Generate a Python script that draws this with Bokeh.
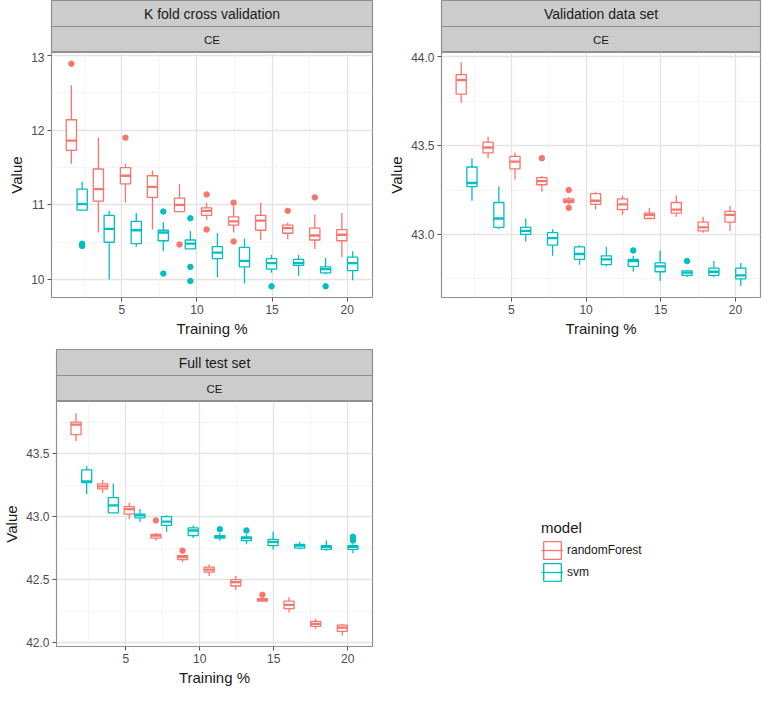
import numpy as np
from bokeh.plotting import figure
from bokeh.models import (Range1d, FixedTicker, NumeralTickFormatter, Label, Span,
                          ColumnDataSource, Legend, LegendItem)
from bokeh.layouts import column, row
from bokeh.embed import file_html
from bokeh.resources import INLINE

# ---------------- data ----------------
training_pct = [2, 3.8, 5.6, 7.4, 9.2, 11, 12.8, 14.6, 16.4, 18.2, 20]
models = ["randomForest", "svm"]
model_colors = ["#F8766D", "#00BFC4"]

# K fold cross validation
kf_rf_low  = [11.55, 10.63, 11.03, 10.67, 10.91, 10.80, 10.63, 10.53, 10.54, 10.41, 10.30]
kf_rf_q1   = [11.73, 11.05, 11.28, 11.10, 10.91, 10.86, 10.73, 10.66, 10.62, 10.53, 10.52]
kf_rf_med  = [11.86, 11.21, 11.39, 11.24, 11.00, 10.92, 10.78, 10.79, 10.69, 10.59, 10.60]
kf_rf_q3   = [12.14, 11.48, 11.50, 11.39, 11.09, 10.96, 10.84, 10.86, 10.73, 10.69, 10.67]
kf_rf_high = [12.60, 11.90, 11.55, 11.46, 11.28, 11.03, 10.98, 11.03, 10.76, 10.87, 10.89]
kf_rf_out_x = [2, 5.6, 9.2, 11, 11, 12.8, 12.8, 16.4, 18.2]
kf_rf_out_y = [12.89, 11.90, 10.47, 11.14, 10.67, 11.03, 10.51, 10.92, 11.10]
kf_svm_low  = [10.93, 10.00, 10.44, 10.38, 10.41, 10.03, 9.95, 10.09, 10.05, 10.07, 9.99]
kf_svm_q1   = [10.93, 10.50, 10.48, 10.52, 10.41, 10.28, 10.17, 10.14, 10.19, 10.09, 10.12]
kf_svm_med  = [11.01, 10.68, 10.66, 10.63, 10.48, 10.36, 10.25, 10.22, 10.22, 10.14, 10.22]
kf_svm_q3   = [11.21, 10.86, 10.78, 10.66, 10.53, 10.44, 10.43, 10.28, 10.27, 10.17, 10.30]
kf_svm_high = [11.31, 10.92, 10.89, 10.77, 10.65, 10.62, 10.55, 10.33, 10.33, 10.29, 10.38]
kf_svm_out_x = [2, 2, 7.4, 7.4, 9.2, 9.2, 9.2, 14.6, 18.2]
kf_svm_out_y = [10.48, 10.45, 10.91, 10.08, 10.82, 10.17, 9.98, 9.91, 9.91]

# Validation data set
val_rf_low  = [43.74, 43.43, 43.31, 43.24, 43.17, 43.14, 43.11, 43.09, 43.10, 43.01, 43.02]
val_rf_q1   = [43.79, 43.46, 43.37, 43.28, 43.18, 43.17, 43.14, 43.09, 43.12, 43.02, 43.07]
val_rf_med  = [43.87, 43.49, 43.41, 43.30, 43.19, 43.19, 43.17, 43.11, 43.14, 43.04, 43.11]
val_rf_q3   = [43.90, 43.52, 43.44, 43.32, 43.20, 43.23, 43.20, 43.12, 43.18, 43.07, 43.13]
val_rf_high = [43.97, 43.55, 43.46, 43.33, 43.21, 43.24, 43.22, 43.15, 43.22, 43.10, 43.16]
val_rf_out_x = [7.4, 9.2, 9.2]
val_rf_out_y = [43.43, 43.25, 43.15]
val_svm_low  = [43.19, 43.03, 42.96, 42.88, 42.83, 42.82, 42.79, 42.74, 42.76, 42.76, 42.71]
val_svm_q1   = [43.27, 43.04, 43.00, 42.94, 42.86, 42.83, 42.82, 42.79, 42.77, 42.77, 42.75]
val_svm_med  = [43.29, 43.09, 43.02, 42.98, 42.89, 42.86, 42.85, 42.82, 42.785, 42.79, 42.77]
val_svm_q3   = [43.38, 43.18, 43.04, 43.01, 42.93, 42.88, 42.86, 42.84, 42.795, 42.81, 42.81]
val_svm_high = [43.43, 43.27, 43.09, 43.03, 42.94, 42.93, 42.88, 42.91, 42.80, 42.85, 42.84]
val_svm_out_x = [12.8, 16.4]
val_svm_out_y = [42.91, 42.85]

# Full test set
full_rf_low  = [43.60, 43.19, 42.98, 42.81, 42.64, 42.53, 42.42, 42.33, 42.24, 42.11, 42.06]
full_rf_q1   = [43.65, 43.22, 43.02, 42.83, 42.66, 42.56, 42.45, 42.33, 42.27, 42.13, 42.09]
full_rf_med  = [43.73, 43.24, 43.06, 42.85, 42.68, 42.58, 42.48, 42.34, 42.30, 42.15, 42.12]
full_rf_q3   = [43.75, 43.26, 43.08, 42.86, 42.69, 42.60, 42.50, 42.35, 42.33, 42.17, 42.14]
full_rf_high = [43.82, 43.29, 43.11, 42.87, 42.69, 42.62, 42.53, 42.35, 42.36, 42.19, 42.15]
full_rf_out_x = [7.4, 9.2, 14.6]
full_rf_out_y = [42.97, 42.73, 42.38]
full_svm_low  = [43.18, 43.03, 42.96, 42.88, 42.83, 42.81, 42.78, 42.74, 42.74, 42.73, 42.71]
full_svm_q1   = [43.27, 43.03, 42.99, 42.93, 42.85, 42.83, 42.81, 42.77, 42.75, 42.74, 42.74]
full_svm_med  = [43.28, 43.09, 43.01, 42.96, 42.89, 42.84, 42.83, 42.80, 42.77, 42.76, 42.76]
full_svm_q3   = [43.37, 43.15, 43.02, 43.00, 42.91, 42.85, 42.84, 42.82, 42.78, 42.77, 42.77]
full_svm_high = [43.40, 43.26, 43.06, 43.01, 42.93, 42.87, 42.86, 42.88, 42.80, 42.81, 42.78]
full_svm_out_x = [11, 12.8, 20, 20, 20]
full_svm_out_y = [42.90, 42.89, 42.84, 42.82, 42.81]

x_ticks = [5, 10, 15, 20]
x_minor = [2.5, 7.5, 12.5, 17.5]
kf_ticks, kf_minor = [10, 11, 12, 13], [10.5, 11.5, 12.5]
val_ticks, val_minor = [43.0, 43.5, 44.0], [42.75, 43.25, 43.75]
full_ticks, full_minor = [42.0, 42.5, 43.0, 43.5], [42.25, 42.75, 43.25, 43.75]

# ---------------- style ----------------
FONT = "Liberation Sans"
BORDER = "#8f8f8f"
STRIP_FILL = "#cccccc"
OFFSET = 0.36
HALF = 0.34


def draw_boxes(p, low, q1, med, q3, high, out_x, out_y, color, offset):
    xs = np.array(training_pct, dtype=float) + offset
    src = ColumnDataSource(dict(x=xs, left=xs - HALF, right=xs + HALF,
                                low=low, q1=q1, med=med, q3=q3, high=high))
    p.segment(x0="x", y0="low", x1="x", y1="q1", source=src, line_color=color, line_width=1.3)
    p.segment(x0="x", y0="q3", x1="x", y1="high", source=src, line_color=color, line_width=1.3)
    p.quad(left="left", right="right", bottom="q1", top="q3", source=src,
           fill_color="white", line_color=color, line_width=1.3)
    p.segment(x0="left", y0="med", x1="right", y1="med", source=src, line_color=color, line_width=2.3)
    p.scatter(x=np.array(out_x, dtype=float) + offset, y=out_y, size=5.5,
              fill_color=color, line_color=color)


def strip(title, width, left, right):
    s = figure(width=width, height=52, x_range=Range1d(0, 1), y_range=Range1d(0, 2),
               output_backend="svg", toolbar_location=None, title=None,
               x_axis_location=None, y_axis_location=None,
               min_border_left=left, min_border_right=right, min_border_top=0, min_border_bottom=0)
    s.grid.visible = False
    s.background_fill_color = STRIP_FILL
    s.border_fill_color = "white"
    s.outline_line_color = BORDER
    s.outline_line_width = 1.2
    s.add_layout(Span(location=1, dimension="width", line_color=BORDER, line_width=1.2))
    s.add_layout(Label(x=0.5, y=1.5, text=title, text_align="center", text_baseline="middle",
                       text_font=FONT, text_font_size="14px", text_color="#1a1a1a"))
    s.add_layout(Label(x=0.5, y=0.5, text="CE", text_align="center", text_baseline="middle",
                       text_font=FONT, text_font_size="11.5px", text_color="#1a1a1a"))
    return s


def panel(width, height, left, right, bottom, yr, yticks, yminor, fmt):
    p = figure(width=width, height=height, x_range=Range1d(0.32, 21.68), y_range=Range1d(*yr),
               output_backend="svg", toolbar_location=None, title=None,
               min_border_left=left, min_border_right=right, min_border_top=0, min_border_bottom=bottom)
    p.background_fill_color = "white"
    p.border_fill_color = "white"
    p.outline_line_color = BORDER
    p.outline_line_width = 1.2
    p.xaxis.ticker = FixedTicker(ticks=x_ticks, minor_ticks=x_minor)
    p.yaxis.ticker = FixedTicker(ticks=yticks, minor_ticks=yminor)
    p.yaxis.formatter = NumeralTickFormatter(format=fmt)
    p.xaxis.axis_label = "Training %"
    p.yaxis.axis_label = "Value"
    for ax in p.axis:
        ax.axis_line_color = None
        ax.major_tick_out = 4
        ax.major_tick_in = 0
        ax.major_tick_line_color = "#555555"
        ax.minor_tick_line_color = None
        ax.major_label_text_font = FONT
        ax.major_label_text_font_size = "12px"
        ax.major_label_text_color = "#4d4d4d"
        ax.major_label_standoff = 3
        ax.axis_label_text_font = FONT
        ax.axis_label_text_font_size = "15px"
        ax.axis_label_text_font_style = "normal"
        ax.axis_label_text_color = "#1a1a1a"
        ax.axis_label_standoff = 3
    p.grid.grid_line_color = "#e4e4e4"
    p.grid.grid_line_width = 1.3
    p.grid.minor_grid_line_color = "#ececec"
    p.grid.minor_grid_line_width = 1
    p.grid.minor_grid_line_dash = "2 2"
    return p


LW, RW = 378, 384
LB, LR = 51, 6
RB, RR = 63, 2

# panel 1
s1 = strip("K fold cross validation", LW, LB, LR)
p1 = panel(LW, 297, LB, LR, 52, (9.76, 13.04), kf_ticks, kf_minor, "0")
draw_boxes(p1, kf_rf_low, kf_rf_q1, kf_rf_med, kf_rf_q3, kf_rf_high, kf_rf_out_x, kf_rf_out_y,
           model_colors[0], -OFFSET)
draw_boxes(p1, kf_svm_low, kf_svm_q1, kf_svm_med, kf_svm_q3, kf_svm_high, kf_svm_out_x, kf_svm_out_y,
           model_colors[1], OFFSET)

# panel 2
s2 = strip("Validation data set", RW, RB, RR)
p2 = panel(RW, 297, RB, RR, 52, (42.645, 44.025), val_ticks, val_minor, "0.0")
draw_boxes(p2, val_rf_low, val_rf_q1, val_rf_med, val_rf_q3, val_rf_high, val_rf_out_x, val_rf_out_y,
           model_colors[0], -OFFSET)
draw_boxes(p2, val_svm_low, val_svm_q1, val_svm_med, val_svm_q3, val_svm_high, val_svm_out_x, val_svm_out_y,
           model_colors[1], OFFSET)

# panel 3
s3 = strip("Full test set", LW, LB, LR)
p3 = panel(LW, 295, LB, LR, 50, (41.97, 43.913), full_ticks, full_minor, "0.0")
draw_boxes(p3, full_rf_low, full_rf_q1, full_rf_med, full_rf_q3, full_rf_high, full_rf_out_x, full_rf_out_y,
           model_colors[0], -OFFSET)
draw_boxes(p3, full_svm_low, full_svm_q1, full_svm_med, full_svm_q3, full_svm_high, full_svm_out_x,
           full_svm_out_y, model_colors[1], OFFSET)

# legend panel (key glyphs only; their single row lies outside the visible range)
lg = figure(width=RW, height=347, x_range=Range1d(0, 1), y_range=Range1d(0, 1),
            output_backend="svg", toolbar_location=None, title=None,
            x_axis_location=None, y_axis_location=None,
            min_border_left=0, min_border_right=0, min_border_top=0, min_border_bottom=0)
lg.grid.visible = False
lg.outline_line_color = None
items = []
for name, col in zip(models, model_colors):
    key_src = ColumnDataSource(dict(x0=[5], x1=[6], y0=[5], y1=[6]))
    rw = lg.segment(x0="x0", y0="y0", x1="x1", y1="y0", source=key_src, line_alpha=0)
    rb = lg.quad(left="x0", right="x1", bottom="y0", top="y1", source=key_src,
                 fill_color="white", line_color=col, line_width=1.3)
    rm = lg.segment(x0="x0", y0="y0", x1="x1", y1="y0", source=key_src, line_color=col, line_width=1.3)
    items.append(LegendItem(label=name, renderers=[rb, rm], index=0))
legend = Legend(items=items, location=(163, 113), title="model",
                title_text_font=FONT, title_text_font_size="15px", title_text_font_style="normal",
                title_text_color="#1a1a1a", title_standoff=3,
                label_text_font=FONT, label_text_font_size="12px", label_text_color="#1a1a1a",
                glyph_width=22, glyph_height=22, label_height=22, label_standoff=4, spacing=0,
                padding=0, margin=0, border_line_color=None, background_fill_alpha=0)
lg.add_layout(legend)

layout = column(row(column(s1, p1), column(s2, p2)), row(column(s3, p3), lg))

open("out.html", "w").write(file_html(layout, INLINE))
